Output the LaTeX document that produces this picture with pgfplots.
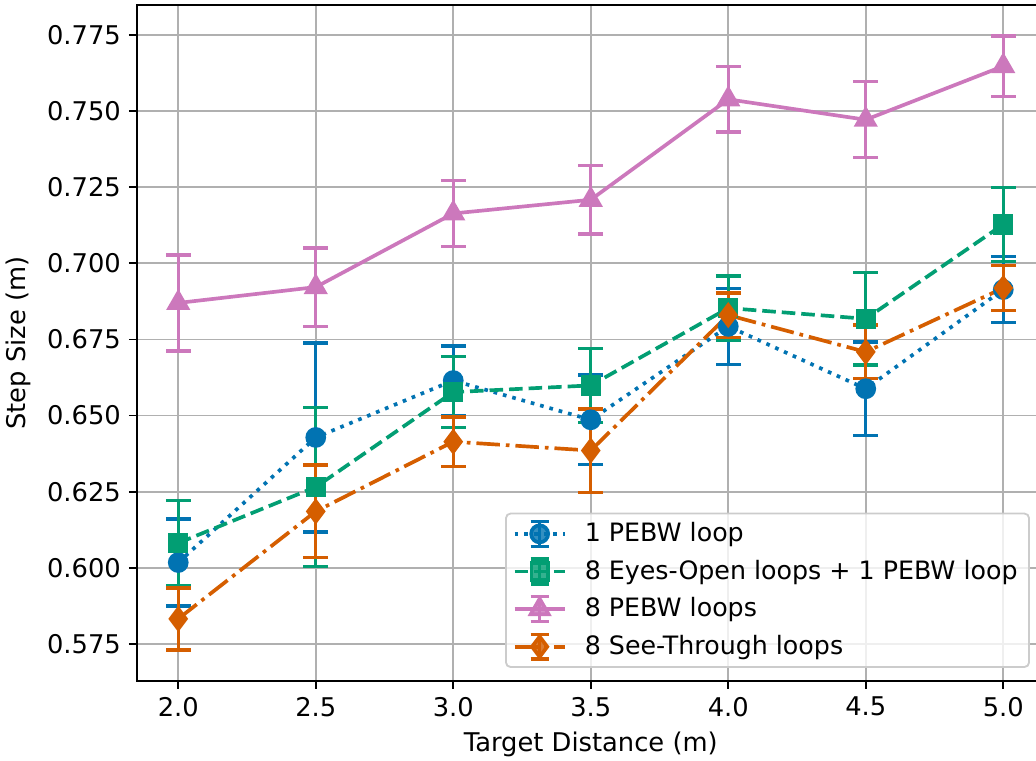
\documentclass[border=0pt]{standalone}
\usepackage{fontspec}
\setmainfont{DejaVu Sans}
\usepackage{pgfplots}
\pgfplotsset{compat=1.18}
\usepackage{pgfplotstable}

\definecolor{cbBlue}{HTML}{0173B2}
\definecolor{cbGreen}{HTML}{029E73}
\definecolor{cbPink}{HTML}{CC78BC}
\definecolor{cbOrange}{HTML}{D55E00}
\definecolor{gridgray}{HTML}{B0B0B0}
\definecolor{legendedge}{HTML}{CCCCCC}

% mean step size and its error for each condition
\pgfplotstableread{
x    y       e
2.0  0.6017  0.0143
2.5  0.6428  0.0311
3.0  0.6615  0.0114
3.5  0.6486  0.0147
4.0  0.6793  0.0125
4.5  0.6588  0.0153
5.0  0.6914  0.0108
}\onepebw
\pgfplotstableread{
x    y       e
2.0  0.6081  0.0140
2.5  0.6265  0.0261
3.0  0.6577  0.0117
3.5  0.6599  0.0122
4.0  0.6853  0.0106
4.5  0.6818  0.0152
5.0  0.7128  0.0122
}\eyesopen
\pgfplotstableread{
x    y       e
2.0  0.6870  0.0158
2.5  0.6922  0.0129
3.0  0.7164  0.0108
3.5  0.7209  0.0112
4.0  0.7539  0.0108
4.5  0.7472  0.0125
5.0  0.7648  0.0099
}\eightpebw
\pgfplotstableread{
x    y       e
2.0  0.5832  0.0102
2.5  0.6185  0.0152
3.0  0.6414  0.0081
3.5  0.6385  0.0137
4.0  0.6830  0.0073
4.5  0.6709  0.0088
5.0  0.6919  0.0074
}\seethrough

\pgfplotsset{
  errplot/.style={
    line width=1.6pt,
    mark options={solid},
    error bars/y dir=both,
    error bars/y explicit,
    error bars/error mark=-,
    error bars/error bar style={line width=1.5pt, solid},
    error bars/error mark options={line width=1.5pt, mark size=5.4pt, rotate=90, solid},
  },
  errlegend/.style={legend image code/.code={
    \draw[solid, line width=1.5pt] (10.85pt,-5.4pt) -- (10.85pt,5.4pt);
    \draw[solid, line width=1.5pt] (6.95pt,5.4pt) -- (14.75pt,5.4pt);
    \draw[solid, line width=1.5pt] (6.95pt,-5.4pt) -- (14.75pt,-5.4pt);
    \draw[mark repeat=2, mark phase=2] plot coordinates {(0pt,0pt) (10.85pt,0pt) (21.7pt,0pt)};
  }},
}

\begin{document}
\begin{tikzpicture}
\begin{axis}[
  scale only axis,
  width=394.6pt, height=293.9pt,
  xmin=1.85, xmax=5.15,
  ymin=0.5628, ymax=0.7849,
  xtick={2.0,2.5,3.0,3.5,4.0,4.5,5.0},
  ytick={0.575,0.600,0.625,0.650,0.675,0.700,0.725,0.750,0.775},
  grid=major,
  major grid style={gridgray, line width=0.8pt},
  tick align=outside, tick pos=left,
  major tick length=3.5pt,
  tick style={black, line width=0.8pt},
  axis line style={line width=0.8pt},
  /pgf/number format/assume math mode=true,
  ticklabel style={font=\fontsize{11.2}{13.4}\selectfont},
  xticklabel style={/pgf/number format/.cd, fixed, fixed zerofill, precision=1},
  yticklabel style={/pgf/number format/.cd, fixed, fixed zerofill, precision=3},
  scaled y ticks=false,
  label style={font=\fontsize{11.2}{13.4}\selectfont},
  xlabel={Target Distance (m)},
  ylabel={Step Size (m)},
  legend cell align=left,
  legend style={
    font=\fontsize{11}{13.2}\selectfont,
    at={(0.984,0.0192)}, anchor=south east,
    draw=legendedge, fill=white, fill opacity=0.8, text opacity=1,
    rounded corners=2pt, line width=0.8pt,
    inner xsep=3pt, inner ysep=1.9pt,
    row sep=2.5pt,
    /tikz/every odd column/.append style={column sep=6pt},
  },
]
\addplot[errplot, errlegend, color=cbBlue, dash pattern=on 1.6pt off 2.6pt,
  mark=*, mark size=3.7pt]
  table[x=x, y=y, y error=e] {\onepebw};
\addlegendentry{1 PEBW loop}
\addplot[errplot, errlegend, color=cbGreen, dash pattern=on 5.9pt off 2.6pt,
  mark=square*, mark size=3.6pt]
  table[x=x, y=y, y error=e] {\eyesopen};
\addlegendentry{8 Eyes-Open loops + 1 PEBW loop}
\addplot[errplot, errlegend, color=cbPink, solid,
  mark=triangle*, mark size=4.5pt]
  table[x=x, y=y, y error=e] {\eightpebw};
\addlegendentry{8 PEBW loops}
\addplot[errplot, errlegend, color=cbOrange, dash pattern=on 10.2pt off 2.6pt on 1.6pt off 2.6pt,
  mark=diamond*, mark size=4.4pt]
  table[x=x, y=y, y error=e] {\seethrough};
\addlegendentry{8 See-Through loops}
\end{axis}
\pgfresetboundingbox
\path[use as bounding box] (-59.57pt,-34.78pt) rectangle (390.9pt,296.08pt);
\end{tikzpicture}
\end{document}
